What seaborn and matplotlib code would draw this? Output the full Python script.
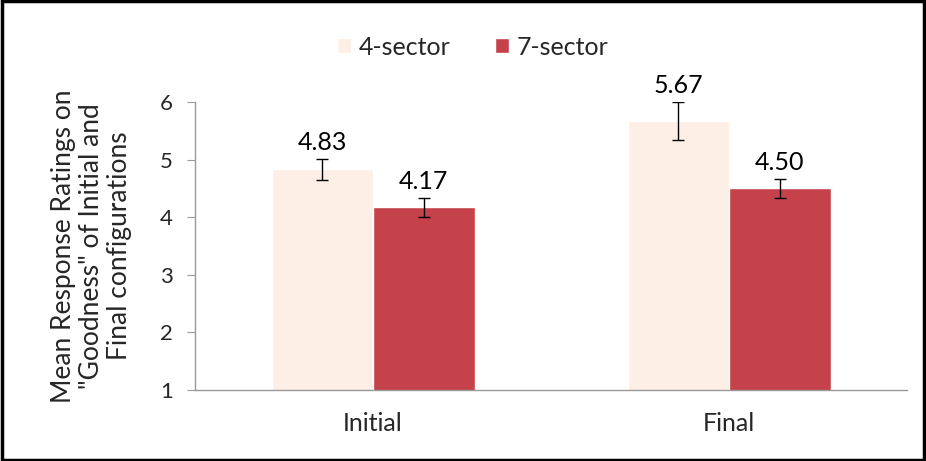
import pandas as pd
import matplotlib.pyplot as plt
import seaborn as sns
from matplotlib.patches import Rectangle

# values
stages = ['Initial', 'Final']
sectors = ['4-sector', '7-sector']
means_4 = [4.83, 5.67]
means_7 = [4.17, 4.50]
err_4 = [0.18, 0.33]
err_7 = [0.16, 0.16]

df = pd.DataFrame({
    'stage': stages * 2,
    'sector': [sectors[0]] * 2 + [sectors[1]] * 2,
    'mean': means_4 + means_7,
    'err': err_4 + err_7,
})

sns.set_style('white')
plt.rcParams['font.family'] = ['Lato', 'DejaVu Sans']

fig = plt.figure(figsize=(9.26, 4.61), dpi=100)
ax = fig.add_axes([0.2106, 0.154, 0.769, 0.625])

palette = {'4-sector': '#FDEFE5', '7-sector': '#C5424A'}
sns.barplot(data=df, x='stage', y='mean', hue='sector', order=stages,
            hue_order=sectors, palette=palette, width=0.57, errorbar=None,
            saturation=1, ax=ax, legend=True)

# error bars and value labels on each bar
bars = [p for p in ax.patches if p.get_height() > 0]
for i, (s, sec) in enumerate([(s, sec) for sec in sectors for s in stages]):
    row = df[(df.stage == s) & (df.sector == sec)].iloc[0]
    p = bars[i]
    xc = p.get_x() + p.get_width() / 2
    ax.errorbar(xc, row['mean'], yerr=row['err'], fmt='none', ecolor='black',
                elinewidth=1, capsize=4, capthick=1)
    ax.text(xc, row['mean'] + row['err'] + 0.09, f"{row['mean']:.2f}",
            ha='center', va='bottom', fontsize=18, color='black')

ax.set_ylim(1, 6)
ax.set_xlim(-0.5, 1.5)
ax.set_yticks([1, 2, 3, 4, 5, 6])
ax.set_xlabel('')
ax.set_ylabel('Mean Response Ratings on\n"Goodness" of Initial and\nFinal configurations',
              fontsize=19, labelpad=20, linespacing=1.15)
ax.tick_params(axis='y', labelsize=16, left=True, length=6, width=0.8,
               color='#999999', pad=10)
ax.tick_params(axis='x', labelsize=18, bottom=False, pad=12)
sns.despine(ax=ax)
for sp in ['left', 'bottom']:
    ax.spines[sp].set_color('#999999')
    ax.spines[sp].set_linewidth(1)

ax.legend(loc='center', bbox_to_anchor=(0.39, 1.19), ncol=2, frameon=False,
          fontsize=18, handlelength=0.55, handleheight=0.55, handletextpad=0.3,
          columnspacing=1.8)

# outer black frame like the original screenshot
fig.patches.append(Rectangle((0.002, 0.003), 0.996, 0.994, transform=fig.transFigure,
                             fill=False, edgecolor='black', linewidth=2.5))

fig.savefig('out.png', dpi=100)
